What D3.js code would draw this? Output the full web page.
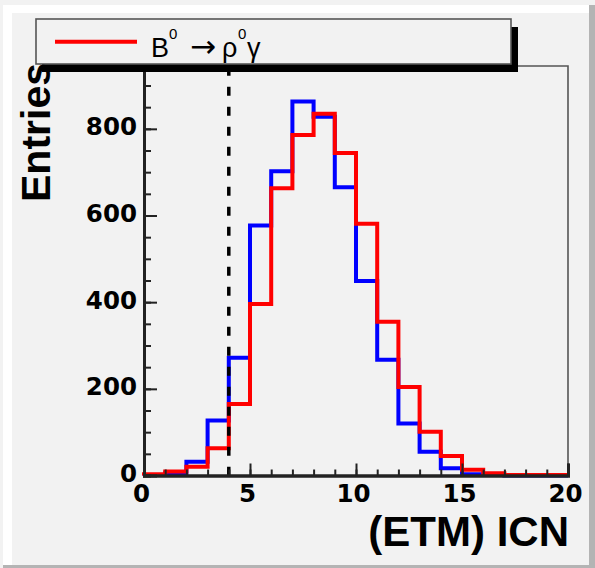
<!DOCTYPE html>
<html>
<head>
<meta charset="utf-8">
<script src="https://cdn.jsdelivr.net/npm/d3@7"></script>
<style>
  body { margin: 0; background: #f2f2f2; }
  svg { display: block; }
</style>
</head>
<body>
<div id="chart"></div>
<script>
// bin edges 0..20, one unit wide
var binEdges = d3.range(0, 21);
// blue histogram (no label in legend)
var blueCounts = [1, 5, 32, 127, 272, 577, 702, 863, 828, 665, 449, 267, 120, 55, 17, 3, 1, 0, 0, 0];
// red histogram: B0 -> rho0 gamma
var redCounts = [3, 9, 20, 63, 165, 396, 663, 786, 835, 744, 581, 355, 204, 101, 45, 13, 5, 1, 1, 1];
var yMajorTicks = [0, 200, 400, 600, 800];
var yMinorTicks = d3.range(0, 901, 50);
var xMajorTicks = [0, 5, 10, 15, 20];
var xMinorTicks = d3.range(0, 21, 1);
var cutValue = 4;

var W = 595, H = 568;
var frame = {left: 144, right: 568, top: 66, bottom: 475.5};

var svg = d3.select("#chart").append("svg")
    .attr("width", W)
    .attr("height", H);

// canvas with bevel
svg.append("rect").attr("width", W).attr("height", H).attr("fill", "#f2f2f2");
svg.append("path")
    .attr("d", "M3,5 L590,5 L590,13 L12,13 L12,565 L3,565 Z")
    .attr("fill", "#ffffff");
svg.append("path")
    .attr("d", "M589,5 L595,5 L595,568 L3,568 L3,565 L589,565 Z")
    .attr("fill", "#b4b4b4");

var x = d3.scaleLinear().domain([0, 20]).range([frame.left, frame.right]);
var y = d3.scaleLinear().domain([0, 945]).range([frame.bottom, frame.top]);

// frame top/right
svg.append("path")
    .attr("d", "M" + frame.left + "," + frame.top + " L" + frame.right + "," + frame.top +
          " L" + frame.right + "," + frame.bottom)
    .attr("fill", "none")
    .attr("stroke", "#555")
    .attr("stroke-width", 1.6);

function histPoints(counts) {
  var pts = [[0, 0]];
  counts.forEach(function(c, i) { pts.push([binEdges[i], c]); });
  pts.push([binEdges[binEdges.length - 1], counts[counts.length - 1]]);
  pts.push([binEdges[binEdges.length - 1], 0]);
  return pts;
}

var line = d3.line()
    .x(function(d) { return x(d[0]); })
    .y(function(d) { return y(d[1]); })
    .curve(d3.curveStepAfter);

svg.append("path")
    .datum(histPoints(blueCounts))
    .attr("d", line)
    .attr("fill", "none")
    .attr("stroke", "#0000ff")
    .attr("stroke-width", 4);

svg.append("path")
    .datum(histPoints(redCounts))
    .attr("d", line)
    .attr("fill", "none")
    .attr("stroke", "#ff0000")
    .attr("stroke-width", 4);

// cut line
svg.append("line")
    .attr("x1", x(cutValue)).attr("x2", x(cutValue))
    .attr("y1", frame.top + 0.7).attr("y2", frame.bottom)
    .attr("stroke", "#000")
    .attr("stroke-width", 3.5)
    .attr("stroke-dasharray", "9,11");

// axes
var tickFont = "'DejaVu Sans', sans-serif";

var yMinor = svg.append("g")
    .attr("transform", "translate(" + frame.left + ",0)")
    .call(d3.axisLeft(y).tickValues(yMinorTicks).tickSize(-7).tickFormat(""));
var yMajor = svg.append("g")
    .attr("transform", "translate(" + frame.left + ",0)")
    .call(d3.axisLeft(y).tickValues(yMajorTicks).tickSize(-13).tickPadding(7));

var xMinor = svg.append("g")
    .attr("transform", "translate(0," + frame.bottom + ")")
    .call(d3.axisBottom(x).tickValues(xMinorTicks).tickSize(-6).tickFormat(""));
var xMajor = svg.append("g")
    .attr("transform", "translate(0," + frame.bottom + ")")
    .call(d3.axisBottom(x).tickValues(xMajorTicks).tickSize(-12).tickPadding(9));

[yMinor, yMajor, xMinor, xMajor].forEach(function(g) {
  g.selectAll("line").attr("stroke", "#222").attr("stroke-width", 2);
  g.select(".domain").attr("stroke", "#222").attr("stroke-width", 3);
  g.selectAll("text")
      .attr("fill", "#000")
      .style("font-family", tickFont)
      .style("font-weight", "bold")
      .style("font-size", "24.5px");
});
yMajor.selectAll("text").attr("dy", "0.24em");
xMajor.selectAll("text").attr("dx", "-3");

// legend
var leg = {x: 36, y: 19, w: 475, h: 45};
svg.append("rect")
    .attr("x", leg.x + 6).attr("y", leg.y + 8)
    .attr("width", leg.w + 1).attr("height", leg.h)
    .attr("fill", "#000");
svg.append("rect")
    .attr("x", leg.x).attr("y", leg.y)
    .attr("width", leg.w).attr("height", leg.h)
    .attr("fill", "#f2f2f2")
    .attr("stroke", "#555")
    .attr("stroke-width", 1.6);
svg.append("line")
    .attr("x1", 55).attr("x2", 137)
    .attr("y1", 41.7).attr("y2", 41.7)
    .attr("stroke", "#ff0000")
    .attr("stroke-width", 4);

var legText = svg.append("text")
    .attr("y", 57)
    .style("font-family", "'Liberation Sans', Arial, sans-serif")
    .style("font-size", "27px")
    .attr("fill", "#000");
legText.append("tspan").attr("x", 151).text("B");
legText.append("tspan").attr("x", 169).attr("y", 39).style("font-size", "15px").text("0");
legText.append("tspan").attr("x", 190).attr("y", 57)
    .style("font-family", "'DejaVu Sans', sans-serif").style("font-size", "31px").text("\u2192");
legText.append("tspan").attr("x", 222).attr("y", 57).text("\u03c1");
legText.append("tspan").attr("x", 238).attr("y", 39).style("font-size", "15px").text("0");
legText.append("tspan").attr("x", 247).attr("y", 57).text("\u03b3");

// axis titles
svg.append("text")
    .attr("transform", "translate(50,63) rotate(-90)")
    .attr("text-anchor", "end")
    .style("font-family", "'Liberation Sans', Arial, sans-serif")
    .style("font-weight", "bold")
    .style("font-size", "41px")
    .attr("fill", "#000")
    .text("Entries");

svg.append("text")
    .attr("x", 569)
    .attr("y", 546)
    .attr("text-anchor", "end")
    .style("font-family", "'Liberation Sans', Arial, sans-serif")
    .style("font-weight", "bold")
    .style("font-size", "42px")
    .attr("fill", "#000")
    .text("(ETM) ICN");
</script>
</body>
</html>
